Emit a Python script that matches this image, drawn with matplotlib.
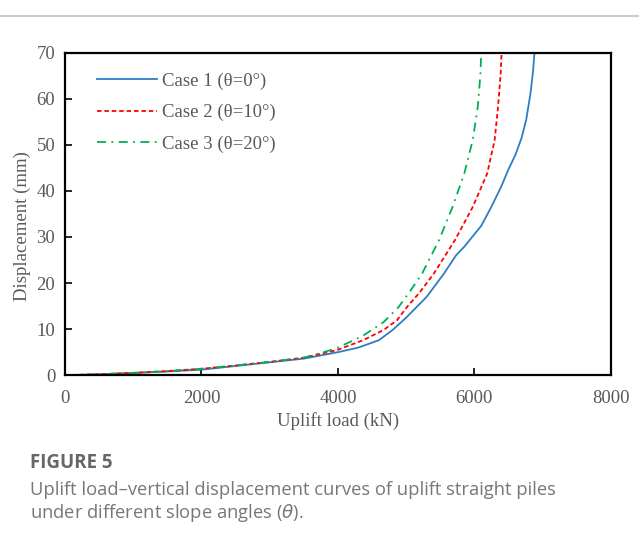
import matplotlib.pyplot as plt
from matplotlib.lines import Line2D

# uplift load (kN) vs displacement (mm)
case1_load = [0, 500, 1000, 1500, 2000, 2500, 3000, 3500, 4000, 4300, 4600, 4800, 5000,
              5300, 5556, 5730, 5852, 6099, 6247, 6395, 6494, 6600, 6691, 6760, 6820, 6860, 6880]
case1_disp = [0, 0.2, 0.5, 0.8, 1.2, 2.0, 2.8, 3.6, 5.0, 6.0, 7.6, 9.8, 12.5,
              17.0, 22.1, 26.0, 27.9, 32.4, 36.5, 41.0, 44.5, 47.8, 51.5, 55.5, 61.0, 66.0, 70]

case2_load = [0, 500, 1000, 1500, 2000, 2500, 3000, 3500, 3975, 4370, 4667, 4864, 5012,
              5200, 5407, 5714, 5975, 6188, 6296, 6346, 6385, 6398]
case2_disp = [0, 0.2, 0.5, 0.9, 1.4, 2.1, 2.9, 3.8, 5.4, 7.6, 9.8, 11.9, 14.8,
              18.0, 22.1, 29.3, 36.5, 43.8, 51.0, 58.2, 65.5, 70]

case3_load = [0, 500, 1000, 1500, 2000, 2500, 3000, 3500, 3975, 4370, 4667, 4889, 5060,
              5235, 5481, 5679, 5852, 5975, 6049, 6089, 6100]
case3_disp = [0, 0.2, 0.5, 0.9, 1.4, 2.1, 2.9, 3.8, 5.8, 8.6, 11.5, 14.8, 18.3,
              22.1, 29.3, 36.5, 43.8, 51.0, 58.2, 65.5, 70]

labels = ["Case 1 (θ=0°)", "Case 2 (θ=10°)", "Case 3 (θ=20°)"]
x_ticks = [0, 2000, 4000, 6000, 8000]
y_ticks = [0, 10, 20, 30, 40, 50, 60, 70]

grey = "#595959"
serif = "Liberation Serif"

fig = plt.figure(figsize=(6.39, 5.43), dpi=100)
ax = fig.add_axes([0.1017, 0.309, 0.8543, 0.594])

ax.plot(case1_load, case1_disp, color="#2E7DC4", lw=1.3, ls="-", label=labels[0])
ax.plot(case2_load, case2_disp, color="#FF0000", lw=1.3, ls=(0, (2.5, 1.6)), label=labels[1])
ax.plot(case3_load, case3_disp, color="#00B050", lw=1.3, ls=(0, (5, 3, 1, 3)), label=labels[2])

ax.set_xlim(0, 8000)
ax.set_ylim(0, 70)
ax.set_xticks(x_ticks)
ax.set_yticks(y_ticks)
for s in ax.spines.values():
    s.set_linewidth(1.6)
    s.set_color("black")
ax.tick_params(direction="in", length=5, width=1.2, colors="black",
               labelcolor=grey, labelsize=13.5, pad=11)
ax.tick_params(axis="y", pad=7)
for t in ax.get_xticklabels() + ax.get_yticklabels():
    t.set_fontfamily(serif)

ax.set_xlabel("Uplift load (kN)", fontsize=13.5, color=grey, family=serif, labelpad=3)
ax.set_ylabel("Displacement (mm)", fontsize=13.5, color=grey, family=serif)
ax.yaxis.set_label_coords(-0.063, 0.462)

leg = ax.legend(loc="upper left", bbox_to_anchor=(0.027, 0.99), frameon=False,
                prop={"family": serif, "size": 13.5}, labelcolor=grey,
                handlelength=3.2, handletextpad=0.3, labelspacing=0.75)

# thin rule at the top of the page
fig.add_artist(Line2D([0, 1], [1 - 16 / 543, 1 - 16 / 543], color="#cccccc", lw=1.5))

fig.text(30 / 639, 1 - 463 / 543, "FIGURE 5", fontsize=13.5, fontweight="bold",
         color="#666666", family="Open Sans", va="center")
fig.text(30 / 639, 1 - 490 / 543, "Uplift load\u2013vertical displacement curves of uplift straight piles",
         fontsize=13.2, color="#777777", family="Open Sans", va="center")
fig.text(30 / 639, 1 - 513 / 543, "under different slope angles ($\\theta$).",
         fontsize=13.2, color="#777777", family="Open Sans", va="center")

fig.savefig("out.png", dpi=100)
